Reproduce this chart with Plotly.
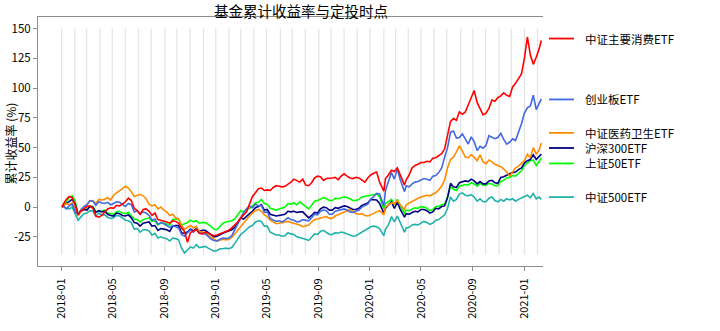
import pandas as pd
import plotly.graph_objects as go

# Weekly samples: first trading day, every Friday close, last trading day.
weekly = pd.date_range("2018-01-05", "2021-02-05", freq="W-FRI")
holiday_shift = {"2020-01-31": "2020-02-03", "2020-03-20": "2020-03-23"}
dates = ([pd.Timestamp("2018-01-02")]
         + [pd.Timestamp(holiday_shift.get(d.strftime("%Y-%m-%d"), d)) for d in weekly]
         + [pd.Timestamp("2021-02-10")])

# Cumulative return (%) of each ETF
consumer = [
    0, 2.5, 6.5, 9.0, 8.0, 2.0, -6.5, -3.0, -1.5, 0.5, 1.0, -1.0, -7.5, -8.5,
    -7.0, -4.0, -1.5, -0.5, -1.0, 1.5, 1.0, 2.5, 4.5, 7.5, 5.5, -1.0, -3.0,
    -6.0, -2.0, -1.5, -3.5, -7.0, -5.0, -10.5, -11.0, -12.0,
    -12.5, -13.5, -11.5, -12.0, -13.5, -17.5, -20.5, -29.5,
    -21.5, -20.0, -19.0, -22.0, -22.5, -21.0, -22.0, -23.0, -24.0,
    # 2019
    -23.5, -22.5, -21.5, -21.0, -19.5, -17.5, -15.0, -12.5,
    -9.0, -6.5, -4.0, 2.5, 9.0, 12.0, 15.5, 16.0, 14.0,
    14.5, 14.0, 16.5, 18.0, 17.5, 17.0, 17.5, 19.0, 21.0,
    23.5, 22.0, 21.0, 23.5, 18.5, 18.0, 20.5, 24.5, 26.0,
    25.5, 22.5, 24.0, 24.0, 24.5, 25.0, 23.0, 26.0,
    28.0, 26.0, 24.5, 24.0, 25.0, 24.5, 23.0, 21.0, 24.5,
    # 2020
    27.0, 28.5, 29.5, 21.0, 13.5, 24.0, 27.0, 31.0, 30.0,
    33.0, 27.0, 18.5, 23.0, 27.0, 33.0, 35.0, 36.0,
    37.5, 37.5, 38.5, 38.0, 41.0, 41.5, 43.0, 45.0, 49.0,
    62.0, 72.0, 74.5, 73.0, 80.0, 78.0, 80.0, 86.0, 93.0,
    98.0, 88.0, 82.5, 77.5, 79.0, 83.0, 90.0, 89.0, 92.0,
    93.5, 96.0, 94.0, 93.0, 101.0, 104.0, 108.0, 112.0,
    # 2021
    125.0, 143.0, 128.0, 120.0, 126.0, 133.0, 140.0,
]
chinext = [
    0, 1.0, -1.5, 1.0, 2.5, -4.0, -6.0, -2.0, 0.5, 2.0, 5.5, 5.0, 1.5, 4.5,
    3.5, 3.0, 4.0, 2.0, 3.0, 4.5, 4.0, 2.5, 0.5, 3.0, 2.0, -4.0, -3.0,
    -6.0, -4.0, -5.0, -7.0, -11.0, -10.0, -14.5, -13.0, -14.0,
    -15.5, -17.0, -15.5, -16.5, -17.5, -23.0, -24.5, -21.5,
    -19.0, -21.0, -18.5, -21.5, -22.0, -22.5, -24.5, -27.0, -28.0,
    # 2019
    -28.5, -27.0, -26.0, -26.5, -26.0, -24.0, -19.0, -14.0,
    -9.0, -4.5, -1.5, 1.0, -0.5, 2.5, 1.0, 1.5, -4.5,
    -4.0, -9.5, -11.0, -12.0, -11.5, -12.5, -11.0, -9.0, -10.5,
    -11.0, -12.5, -12.0, -10.5, -11.0, -11.5, -9.0, -6.0, -6.5,
    -3.5, -2.5, -3.0, -6.0, -6.0, -3.5, -3.0, -2.0,
    -1.5, -2.5, -4.0, -4.5, -3.5, -2.5, 0.0, 1.0, 2.5,
    # 2020
    6.5, 9.0, 11.5, 11.0, 1.0, 14.0, 22.0, 29.0, 23.5,
    32.0, 23.0, 13.0, 18.0, 17.0, 19.5, 21.0, 21.5,
    23.0, 24.0, 23.5, 22.5, 26.0, 26.5, 29.0, 33.0, 42.0,
    50.0, 63.0, 64.0, 58.0, 58.5, 61.5, 57.0, 53.0, 59.0,
    55.0, 47.5, 51.0, 49.5, 52.0, 60.0, 59.0, 57.5, 58.5,
    62.0, 57.0, 53.0, 54.5, 57.5, 56.0, 63.0, 70.0,
    # 2021
    79.0, 83.5, 85.0, 94.0, 82.0, 87.0, 91.0,
]
healthcare = [
    0, 1.5, 3.0, 2.0, 3.5, -2.0, -7.0, -3.5, 0.0, 2.0, 5.0, 5.5, 3.0, 6.5,
    6.0, 6.5, 8.0, 6.0, 10.0, 12.0, 13.5, 15.5, 17.5, 16.0, 13.0, 9.0, 10.0,
    10.5, 9.5, 7.0, 2.5, 1.0, 2.0, -1.5, 0.0, -2.5,
    -4.0, -7.0, -6.0, -9.0, -10.0, -15.5, -18.5, -17.0,
    -15.5, -17.5, -16.0, -20.5, -21.0, -21.5, -23.5, -25.5, -27.0,
    # 2019
    -28.5, -27.5, -27.0, -27.5, -27.0, -25.5, -22.5, -19.5,
    -16.0, -13.0, -10.5, -7.5, -5.0, -3.0, -2.0, -3.5, -6.5,
    -8.0, -11.0, -12.5, -14.0, -13.5, -13.0, -12.5, -12.0, -13.0,
    -13.5, -14.5, -15.0, -16.5, -16.0, -15.0, -12.5, -10.5, -10.0,
    -9.0, -8.5, -8.0, -9.5, -9.5, -7.5, -6.5, -5.5,
    -4.5, -3.5, -2.0, -3.5, -5.5, -6.0, -5.5, -7.0, -7.5,
    # 2020
    -6.5, -5.0, -4.0, -3.0, -6.5, 0.0, 1.5, 3.5, 3.0,
    5.5, 2.0, -2.0, 2.0, 3.5, 5.0, 6.5, 7.5,
    8.5, 9.0, 10.0, 9.5, 11.0, 12.0, 14.5, 17.5, 23.0,
    33.0, 40.0, 42.0, 46.5, 51.5, 47.0, 42.0, 41.5, 44.0,
    42.0, 39.0, 44.0, 38.0, 36.5, 39.5, 38.0, 36.0, 35.0,
    34.0, 32.0, 29.5, 26.0, 30.0, 33.0, 34.5, 36.5,
    # 2021
    39.0, 44.5, 41.5, 50.0, 44.5, 48.0, 54.0,
]
hs300 = [
    0, 1.5, 3.0, 5.0, 6.5, 2.5, -6.0, -3.5, -2.0, -2.5, 0.5, 0.0, -4.5, -3.0,
    -4.0, -3.5, -6.0, -7.0, -7.5, -5.0, -5.5, -7.0, -7.5, -6.5, -9.0, -13.0, -13.5,
    -16.0, -13.5, -13.0, -12.5, -16.0, -15.5, -19.5, -18.0, -18.5,
    -19.0, -20.5, -16.0, -15.5, -15.5, -21.5, -22.0, -21.0,
    -18.5, -20.0, -18.0, -20.5, -19.5, -19.5, -21.5, -23.5, -25.0,
    # 2019
    -24.5, -23.0, -22.0, -21.0, -20.0, -19.0, -17.0, -13.0,
    -9.0, -10.0, -7.5, -5.5, -3.5, -0.5, 0.5, 2.0, -2.5,
    -2.0, -6.0, -7.0, -7.5, -7.0, -6.5, -6.0, -3.5, -4.0,
    -3.5, -4.5, -4.0, -4.0, -6.5, -9.0, -7.0, -4.5, -5.0,
    -1.5, 0.0, -0.5, -2.5, -2.5, -0.5, -1.0, 0.0,
    1.0, 0.5, -1.0, -2.0, -2.0, -1.0, 1.5, 2.5, 3.5,
    # 2020
    6.5, 6.5, 6.0, 3.0, -5.0, -1.0, 2.0, 4.5, -1.0,
    4.0, -2.0, -8.5, -5.5, -6.0, -4.5, -3.5, -4.0,
    -2.0, -2.0, -3.0, -5.0, -4.0, -1.0, -1.5, 0.5, 1.0,
    8.0, 20.0, 17.0, 16.5, 20.5, 21.0, 22.0, 21.5, 23.5,
    22.0, 19.5, 21.5, 19.5, 19.5, 22.0, 22.5, 20.5, 20.0,
    25.0, 25.5, 27.0, 28.0, 29.0, 29.5, 31.5, 33.0,
    # 2021
    37.0, 39.0, 40.0, 44.0, 40.0, 42.5, 44.5,
]
sse50 = [
    0, 1.5, 4.5, 8.0, 9.5, 5.0, -6.0, -3.0, -1.5, -2.0, 1.0, 0.5, -4.0, -3.0,
    -3.5, -2.5, -5.0, -5.5, -6.0, -4.0, -3.5, -5.0, -5.5, -4.5, -7.0, -10.0, -10.5,
    -12.5, -10.5, -9.5, -9.0, -12.0, -11.5, -15.0, -13.5, -13.5,
    -14.0, -15.0, -10.5, -10.0, -10.0, -15.0, -14.0, -13.0,
    -11.0, -12.5, -11.5, -13.5, -13.0, -13.0, -14.5, -16.5, -18.5,
    # 2019
    -19.0, -16.0, -13.5, -12.5, -12.0, -11.5, -10.0, -6.0,
    -3.0, -4.0, -2.0, -1.0, 1.5, 3.5, 4.0, 6.5, 3.0,
    2.5, -1.0, -1.5, -2.5, -1.5, -1.0, 0.0, 3.0, 2.5,
    3.5, 2.0, 4.5, 2.5, 0.5, -1.5, 1.5, 5.0, 5.5,
    7.0, 8.0, 7.0, 5.5, 5.5, 7.5, 7.0, 7.5,
    8.5, 8.0, 6.5, 5.5, 5.5, 6.5, 8.5, 9.0, 9.5,
    # 2020
    10.5, 10.5, 11.0, 8.5, -1.5, 3.0, 5.0, 6.5, 2.0,
    6.5, 1.0, -5.0, -2.5, -3.0, -1.5, -0.5, -1.0,
    0.5, 0.0, -1.0, -3.0, -2.0, 0.5, 0.5, 2.0, 2.5,
    8.5, 17.5, 15.0, 14.0, 17.5, 18.0, 19.0, 18.5, 20.5,
    19.5, 17.5, 20.0, 18.5, 18.5, 20.0, 19.5, 18.0, 18.0,
    21.5, 22.5, 24.5, 25.0, 26.5, 26.0, 28.5, 30.5,
    # 2021
    35.0, 37.0, 39.0, 39.5, 35.0, 38.5, 41.5,
]
csi500 = [
    0, 0.5, -1.0, -1.5, 0.0, -5.5, -11.0, -8.0, -5.5, -5.0, -3.0, -3.5, -7.5, -5.0,
    -6.5, -6.5, -8.5, -9.5, -9.0, -7.0, -7.5, -9.0, -11.0, -11.5, -13.0, -18.5, -18.0,
    -21.0, -19.0, -19.0, -20.0, -23.5, -22.0, -26.0, -25.0, -26.0,
    -26.5, -28.5, -26.0, -26.5, -27.5, -34.5, -38.5, -36.0,
    -33.5, -34.5, -31.5, -34.0, -33.5, -33.0, -34.5, -36.0, -37.0,
    # 2019
    -36.5, -35.0, -35.0, -34.5, -35.0, -34.0, -30.5, -27.0,
    -23.0, -21.0, -19.0, -16.5, -15.5, -12.5, -11.5, -12.0, -16.0,
    -16.0, -21.0, -22.5, -23.5, -23.5, -24.5, -24.0, -21.5, -22.5,
    -23.0, -25.0, -25.5, -26.0, -27.0, -28.0, -25.5, -22.5, -23.0,
    -20.5, -19.5, -21.0, -23.0, -23.0, -21.5, -22.0, -21.0,
    -21.5, -22.5, -24.0, -24.5, -24.0, -22.5, -21.0, -19.0, -18.0,
    # 2020
    -16.5, -16.0, -16.5, -18.0, -24.0, -18.5, -15.0, -8.0, -12.5,
    -7.5, -13.0, -21.0, -17.5, -17.0, -15.0, -14.5, -15.0,
    -13.5, -12.0, -13.0, -14.5, -13.5, -11.0, -10.5, -8.5, -6.5,
    -1.0, 8.5, 5.0, 6.5, 11.0, 12.0, 10.0, 9.5, 10.5,
    8.5, 5.0, 7.0, 4.5, 4.5, 7.5, 8.5, 5.5, 4.5,
    6.5, 5.0, 7.0, 6.0, 7.0, 5.0, 6.5, 7.5,
    # 2021
    9.0, 10.0, 8.0, 11.5, 7.0, 8.5, 6.5,
]

names = ["中证主要消费ETF", "创业板ETF", "中证医药卫生ETF", "沪深300ETF", "上证50ETF", "中证500ETF"]
series = [consumer, chinext, healthcare, hs300, sse50, csi500]
colors = ["#ff0000", "#4169e1", "#ff8c00", "#000080", "#00ff00", "#20b2aa"]

# Monthly investment dates (first business day of each month)
invest_dates = pd.date_range("2018-01-01", "2021-02-01", freq="BMS")
invest_low, invest_high = -40, 150

tick_labels = ["2018-01", "2018-05", "2018-09", "2019-01", "2019-05", "2019-09",
               "2020-01", "2020-05", "2020-09", "2021-01"]
y_ticks = [-25, 0, 25, 50, 75, 100, 125, 150]

# label heights (in %) for the series names on the right
label_levels = [141.7, 90.5, 62.4, 49.7, 36.7, 8.4]

W, H = 720, 331
ML, MR, MT, MB = 37, 177, 17, 58
PW, PH = W - ML - MR, H - MT - MB
X_RANGE = ["2017-11-06", "2021-02-14"]
Y_RANGE = [-49.5, 159.8]

FONT = "Noto Sans CJK SC"

fig = go.Figure()
draw_order = [5, 4, 3, 2, 1, 0]
for i in draw_order:
    assert len(series[i]) == len(dates), (names[i], len(series[i]), len(dates))
    fig.add_trace(go.Scatter(
        x=dates, y=series[i], mode="lines", name=names[i],
        line=dict(color=colors[i], width=1.6), showlegend=False,
    ))

shapes = []
for d in invest_dates:
    shapes.append(dict(type="line", xref="x", yref="y", x0=d, x1=d,
                       y0=invest_low, y1=invest_high, layer="below",
                       line=dict(color="rgba(190,190,190,0.4)", width=1.3)))


def ypaper(v):
    return (v - Y_RANGE[0]) / (Y_RANGE[1] - Y_RANGE[0])


annotations = []
for name, col, lv in zip(names, colors, label_levels):
    yp = ypaper(lv)
    shapes.append(dict(type="line", xref="paper", yref="paper",
                       x0=(549 - ML) / PW, x1=(574 - ML) / PW, y0=yp, y1=yp,
                       line=dict(color=col, width=1.8)))
    annotations.append(dict(text=name, xref="paper", yref="paper",
                            x=(583 - ML) / PW, y=yp, xanchor="left", yanchor="middle",
                            showarrow=False,
                            font=dict(family=FONT, size=11.5, color="#000")))

annotations.append(dict(text="基金累计收益率与定投时点", xref="paper", yref="paper",
                        x=(301 - ML) / PW, y=(PH + 7) / PH, xanchor="center",
                        yanchor="middle", showarrow=False,
                        font=dict(family=FONT, size=14.5, color="#000")))
annotations.append(dict(text="累计收益率 (%)", xref="paper", yref="paper",
                        x=(9.5 - ML) / PW, y=0.49, xanchor="center", yanchor="middle",
                        textangle=-90, showarrow=False,
                        font=dict(family=FONT, size=12, color="#000")))

axis_color = "#8c8c8c"
fig.update_layout(
    width=W, height=H,
    margin=dict(l=ML, r=MR, t=MT, b=MB, pad=0),
    paper_bgcolor="white", plot_bgcolor="white",
    font=dict(family=FONT, size=11, color="#000"),
    shapes=shapes, annotations=annotations,
    xaxis=dict(range=X_RANGE, type="date", showgrid=False, zeroline=False,
               showline=True, linecolor=axis_color, linewidth=1, mirror=True,
               ticks="outside", ticklen=4, tickcolor=axis_color,
               tickvals=[pd.Timestamp(t + "-01") for t in tick_labels],
               ticktext=tick_labels, tickangle=-90, ticklabelstandoff=3,
               tickfont=dict(family=FONT, size=11, color="#000")),
    yaxis=dict(range=Y_RANGE, showgrid=False, zeroline=False,
               showline=True, linecolor=axis_color, linewidth=1, mirror=False,
               ticks="outside", ticklen=4, tickcolor=axis_color,
               tickvals=y_ticks, ticktext=[str(v) for v in y_ticks],
               tickfont=dict(family=FONT, size=11.5, color="#000")),
)

fig.write_html("out.html")
